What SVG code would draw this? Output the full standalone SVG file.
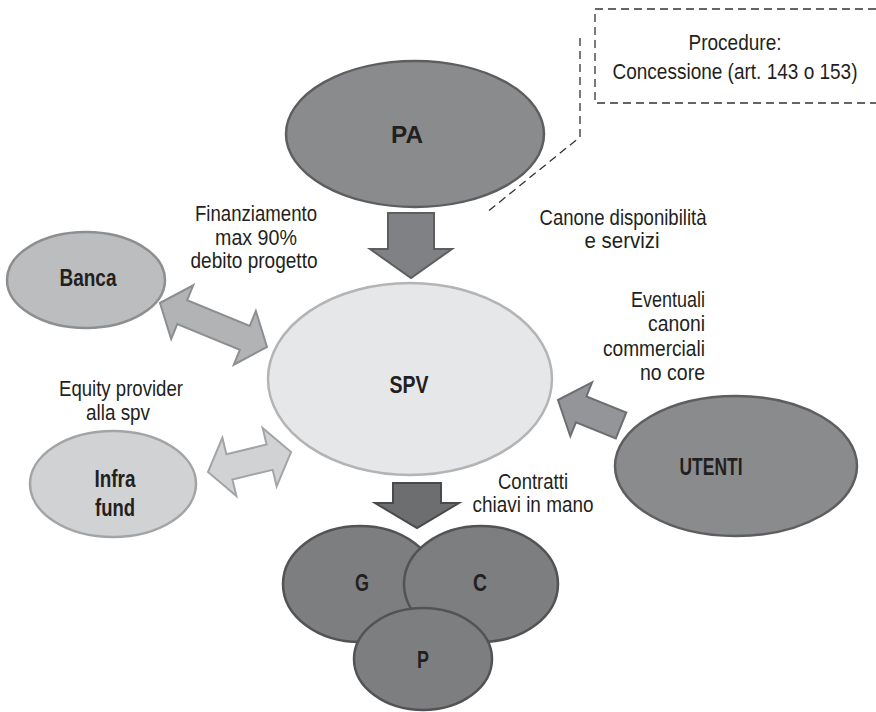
<svg xmlns="http://www.w3.org/2000/svg" width="876" height="712" viewBox="0 0 876 712">
<style>
text{font-family:"Liberation Sans Narrow","Liberation Sans",Arial,sans-serif;fill:#231f20}
.lbl{font-size:22px;text-anchor:middle}
.end{text-anchor:end}
.node{font-size:24px;font-weight:bold;text-anchor:middle}
.dash{fill:none;stroke:#333;stroke-width:1.3;stroke-dasharray:8 5}
.dark{fill:#8a8b8d;stroke:#5e5e60;stroke-width:2.5}
.darker{fill:#7d7e80;stroke:#535355;stroke-width:2.5}
</style>
<rect width="876" height="712" fill="#fff"/>
<g id="note">
<path class="dash" d="M876,9 H595 V103 H876"/>
<polyline class="dash" points="580,38 580,137 486,213"/>
<text class="lbl" x="735" y="50" textLength="93" lengthAdjust="spacingAndGlyphs">Procedure:</text>
<text class="lbl" x="735" y="79" textLength="245" lengthAdjust="spacingAndGlyphs">Concessione (art. 143 o 153)</text>
</g>
<g id="PA">
<ellipse class="dark" cx="415" cy="134" rx="129" ry="73"/>
<text class="node" x="407" y="143" textLength="32" lengthAdjust="spacingAndGlyphs">PA</text>
</g>
<g id="SPV">
<ellipse cx="410" cy="379" rx="142" ry="96" fill="#e6e7e8" stroke="#b3b4b6" stroke-width="2.5"/>
<text class="node" x="409" y="393" textLength="39" lengthAdjust="spacingAndGlyphs">SPV</text>
</g>
<g id="Banca">
<ellipse cx="86" cy="280" rx="79" ry="48" fill="#bcbdbf" stroke="#8d8e90" stroke-width="2.5"/>
<text class="node" x="88" y="286" textLength="57" lengthAdjust="spacingAndGlyphs">Banca</text>
</g>
<g id="InfraFund">
<ellipse cx="113" cy="484" rx="83" ry="53" fill="#d1d2d4" stroke="#a3a4a6" stroke-width="2.5"/>
<text class="node" x="115" y="487" textLength="41" lengthAdjust="spacingAndGlyphs">Infra</text>
<text class="node" x="115" y="516" textLength="40" lengthAdjust="spacingAndGlyphs">fund</text>
</g>
<g id="UTENTI">
<ellipse class="dark" cx="736" cy="466" rx="121" ry="70"/>
<text class="node" x="711" y="475" textLength="63" lengthAdjust="spacingAndGlyphs">UTENTI</text>
</g>
<g id="G">
<ellipse class="darker" cx="360" cy="584" rx="77" ry="58"/>
<text class="node" x="362" y="591" textLength="14" lengthAdjust="spacingAndGlyphs">G</text>
</g>
<g id="C">
<ellipse class="darker" cx="481" cy="584" rx="77" ry="58"/>
<text class="node" x="480" y="591" textLength="14" lengthAdjust="spacingAndGlyphs">C</text>
</g>
<g id="P">
<ellipse class="darker" cx="423" cy="659" rx="69" ry="51"/>
<text class="node" x="423" y="668" textLength="12" lengthAdjust="spacingAndGlyphs">P</text>
</g>
<g id="connectors">
<polygon points="388,213 434,213 434,249 452,249 411,278 370,249 388,249" fill="#808184" stroke="#5e5e60" stroke-width="2"/>
<polygon points="393,483 441,483 441,503 459,503 417,528 375,503 393,503" fill="#6d6e70" stroke="#4a4a4c" stroke-width="2"/>
<polygon transform="translate(160,303) rotate(22.35)" points="0,0 24,-29 24,-13 91.7,-13 91.7,-29 115.7,0 91.7,29 91.7,13 24,13 24,29" fill="#b1b3b5" stroke="#8d8e90" stroke-width="2"/>
<polygon transform="translate(208,472) rotate(-13.5)" points="0,0 22,-30 22,-13 63.4,-13 63.4,-30 85.4,0 63.4,30 63.4,13 22,13 22,30" fill="#d1d2d4" stroke="#a3a4a6" stroke-width="2"/>
<polygon transform="translate(558,400) rotate(22)" points="0,0 25,-29 25,-14 68,-14 68,14 25,14 25,29" fill="#939598" stroke="#6d6e70" stroke-width="2"/>
</g>
<g id="labels">
<text class="lbl" x="256" y="221" textLength="122" lengthAdjust="spacingAndGlyphs">Finanziamento</text>
<text class="lbl" x="256" y="245" textLength="82" lengthAdjust="spacingAndGlyphs">max 90%</text>
<text class="lbl" x="254" y="268" textLength="127" lengthAdjust="spacingAndGlyphs">debito progetto</text>
<text class="lbl" x="623" y="225" textLength="167" lengthAdjust="spacingAndGlyphs">Canone disponibilità</text>
<text class="lbl" x="622" y="248" textLength="75" lengthAdjust="spacingAndGlyphs">e servizi</text>
<text class="lbl end" x="705" y="307" textLength="74" lengthAdjust="spacingAndGlyphs">Eventuali</text>
<text class="lbl end" x="705" y="331" textLength="57" lengthAdjust="spacingAndGlyphs">canoni</text>
<text class="lbl end" x="705" y="356" textLength="102" lengthAdjust="spacingAndGlyphs">commerciali</text>
<text class="lbl end" x="705" y="380" textLength="65" lengthAdjust="spacingAndGlyphs">no core</text>
<text class="lbl" x="121" y="396" textLength="124" lengthAdjust="spacingAndGlyphs">Equity provider</text>
<text class="lbl" x="118" y="420" textLength="64" lengthAdjust="spacingAndGlyphs">alla spv</text>
<text class="lbl" x="533" y="489" textLength="70" lengthAdjust="spacingAndGlyphs">Contratti</text>
<text class="lbl" x="533" y="512" textLength="121" lengthAdjust="spacingAndGlyphs">chiavi in mano</text>
</g>
</svg>
